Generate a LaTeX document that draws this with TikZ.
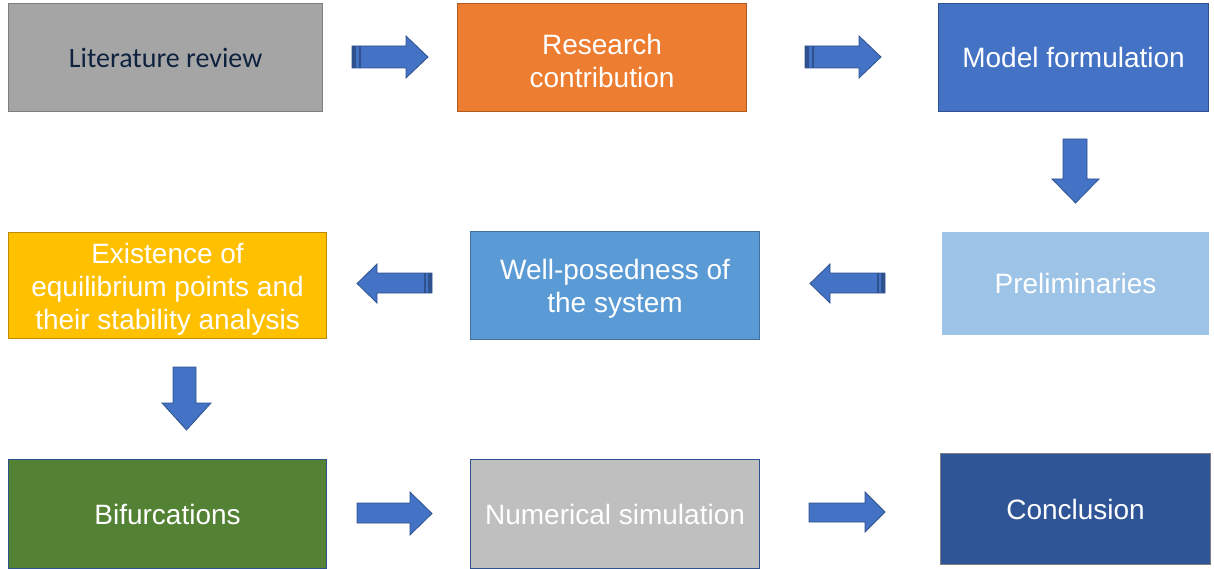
\documentclass[tikz,border=0pt]{standalone}
\usepackage{fontspec}
\setmainfont{Liberation Sans}
\newfontfamily\calibri{Carlito}
\definecolor{cgray}{HTML}{A5A5A5}
\definecolor{cgrayb}{HTML}{7F7F7F}
\definecolor{corange}{HTML}{ED7D31}
\definecolor{corangeb}{HTML}{AE5A21}
\definecolor{cblue}{HTML}{4472C4}
\definecolor{cblueb}{HTML}{2F528F}
\definecolor{clblue}{HTML}{9DC3E6}
\definecolor{cmblue}{HTML}{5B9BD5}
\definecolor{cmblueb}{HTML}{41719C}
\definecolor{cyellow}{HTML}{FFC000}
\definecolor{cyellowb}{HTML}{BC8C00}
\definecolor{cgreen}{HTML}{548235}
\definecolor{clgray}{HTML}{BFBFBF}
\definecolor{cdblue}{HTML}{2F5597}
\definecolor{cnavy}{HTML}{0E2240}
\newcommand{\toprule}{\rule{0pt}{27pt}}
\begin{document}
\begin{tikzpicture}[x=1pt,y=-1pt,
  box/.style={draw, line width=1.1pt, anchor=north west, inner sep=0pt, align=center,
    text=white, font=\fontsize{28}{33}\selectfont},
  blockarrow/.style={fill=cblue, draw=cblueb, line width=0.8pt, line join=miter},
  stripe/.style={fill=cblueb, draw=none}]
\useasboundingbox (0,0) rectangle (1214,569);
% boxes
\node[box, fill=cgray, draw=cgrayb, minimum width=314pt, minimum height=108pt, text=cnavy,
  font=\calibri\fontsize{28}{33}\selectfont] (lit) at (8,3) {Literature review};
\node[box, fill=corange, draw=corangeb, minimum width=289pt, minimum height=108pt] (rc) at (457,3) {\toprule Research\\contribution};
\node[box, fill=cblue, draw=cblueb, minimum width=270pt, minimum height=108pt] (mf) at (938,3) {Model formulation};
\node[box, fill=clblue, draw=clblue, minimum width=266pt, minimum height=102pt] (pre) at (942,232) {Preliminaries};
\node[box, fill=cmblue, draw=cmblueb, minimum width=289pt, minimum height=108pt] (wp) at (470,231) {\toprule Well-posedness of\\the system};
\node[box, fill=cyellow, draw=cyellowb, minimum width=318pt, minimum height=106pt] (ex) at (8,232) {\toprule Existence of\\equilibrium points and\\their stability analysis};
\node[box, fill=cgreen, draw=cblueb, minimum width=318pt, minimum height=109pt] (bif) at (8,459) {Bifurcations};
\node[box, fill=clgray, draw=cblueb, minimum width=289pt, minimum height=109pt] (ns) at (470,459) {Numerical simulation};
\node[box, fill=cdblue, draw=cgrayb, minimum width=270pt, minimum height=111pt] (con) at (940,453) {Conclusion};
% arrows row 1
\draw[blockarrow] (352,46) -- (406,46) -- (406,36) -- (428,57) -- (406,78) -- (406,68) -- (352,68) -- cycle;
\fill[stripe] (352,46) rectangle (356,68);
\fill[stripe] (359,46) rectangle (361,68);
\draw[blockarrow] (805,46) -- (859,46) -- (859,36) -- (881,57) -- (859,78) -- (859,68) -- (805,68) -- cycle;
\fill[stripe] (805,46) rectangle (809,68);
\fill[stripe] (812,46) rectangle (814,68);
% down arrow 1
\draw[blockarrow] (1063,139) -- (1087,139) -- (1087,179) -- (1099,179) -- (1075.5,203) -- (1052,179) -- (1063,179) -- cycle;
% arrows row 2 (left)
\draw[blockarrow] (885,273) -- (830,273) -- (830,264) -- (810,283.5) -- (830,303) -- (830,293) -- (885,293) -- cycle;
\fill[stripe] (881,273) rectangle (885,293);
\fill[stripe] (877,273) rectangle (879,293);
\draw[blockarrow] (432,273) -- (377,273) -- (377,264) -- (357,283.5) -- (377,303) -- (377,293) -- (432,293) -- cycle;
\fill[stripe] (428,273) rectangle (432,293);
\fill[stripe] (424,273) rectangle (426,293);
% down arrow 2
\draw[blockarrow] (173,367) -- (196,367) -- (196,403) -- (211,403) -- (186.5,430) -- (162,403) -- (173,403) -- cycle;
% arrows row 3
\draw[blockarrow] (357,503) -- (410,503) -- (410,492) -- (432,513.5) -- (410,535) -- (410,523) -- (357,523) -- cycle;
\draw[blockarrow] (809,503) -- (865,503) -- (865,492) -- (885,512) -- (865,532) -- (865,522) -- (809,522) -- cycle;
\end{tikzpicture}
\end{document}
